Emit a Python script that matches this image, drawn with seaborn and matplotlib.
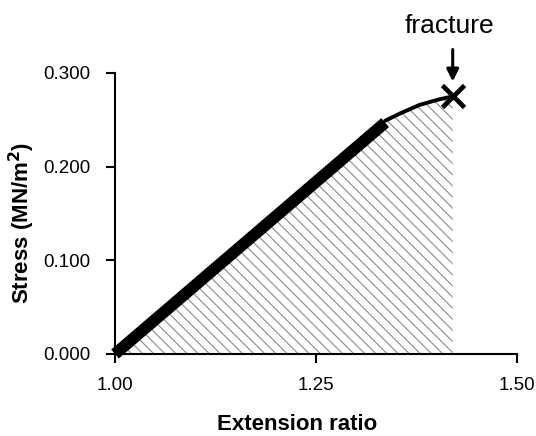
import numpy as np
import matplotlib
matplotlib.use("Agg")
import matplotlib.pyplot as plt
import seaborn as sns

# elastic (linear) part of the curve
elastic_x = [1.000, 1.336]
elastic_y = [0.000, 0.247]

# plastic part, up to fracture
plastic_x = [1.336, 1.355, 1.379, 1.404, 1.420]
plastic_y = [0.249, 0.257, 0.266, 0.272, 0.275]

fracture_x = 1.420
fracture_y = 0.275

x_ticks = [1.00, 1.25, 1.50]
y_ticks = [0.000, 0.100, 0.200, 0.300]

sns.set_theme(style="ticks")
plt.rcParams['font.family'] = ['Liberation Sans', 'DejaVu Sans']
plt.rcParams['text.color'] = 'black'
plt.rcParams['axes.labelcolor'] = 'black'
plt.rcParams['hatch.linewidth'] = 0.8
plt.rcParams['hatch.color'] = '#8a8a8a'

fig = plt.figure(figsize=(5.36, 4.36), dpi=100)
ax = fig.add_axes([0.2146, 0.1881, 0.75, 0.6445])

# hatched area under the curve (energy to fracture)
area_x = elastic_x + plastic_x[1:]
area_y = elastic_y + plastic_y[1:]
ax.fill_between(area_x, 0, area_y, facecolor='none', edgecolor='#8a8a8a',
                hatch='\\\\\\', linewidth=0)

sns.lineplot(x=elastic_x, y=elastic_y, ax=ax, color='black', linewidth=8.5,
             solid_capstyle='butt', clip_on=False)
sns.lineplot(x=plastic_x, y=plastic_y, ax=ax, color='black', linewidth=2.8,
             solid_capstyle='round', clip_on=False)
ax.plot([fracture_x], [fracture_y], marker='x', markersize=16, mew=3.4,
        color='black', clip_on=False, zorder=5)

ax.annotate('', xy=(fracture_x, 0.288), xytext=(fracture_x, 0.328),
            arrowprops=dict(arrowstyle='-|>,head_length=0.6,head_width=0.3',
                            color='black', lw=2.2),
            annotation_clip=False)
ax.text(1.4165, 0.350, 'fracture', fontsize=19, ha='center', va='center',
        color='black', clip_on=False)

ax.set_xlim(1.0, 1.5)
ax.set_ylim(0.0, 0.3)
ax.set_xticks(x_ticks)
ax.set_xticklabels(['%.2f' % v for v in x_ticks])
ax.set_yticks(y_ticks)
ax.set_yticklabels(['%.3f' % v for v in y_ticks])
ax.tick_params(axis='both', direction='out', length=6.5, width=1.5,
               labelsize=13.5, color='black', labelcolor='black')
ax.tick_params(axis='x', pad=10)
ax.tick_params(axis='y', pad=11)

sns.despine(ax=ax)
for s in ['left', 'bottom']:
    ax.spines[s].set_linewidth(1.5)
    ax.spines[s].set_color('black')

ax.set_xlabel('Extension ratio', fontsize=16, fontweight='bold', color='black')
ax.set_ylabel('Stress (MN/m$^\\mathbf{2}$)', fontsize=16, fontweight='bold',
              color='black')
ax.xaxis.set_label_coords(0.454, -0.215)
ax.yaxis.set_label_coords(-0.195, 0.466)

fig.savefig('out.png', dpi=100)
